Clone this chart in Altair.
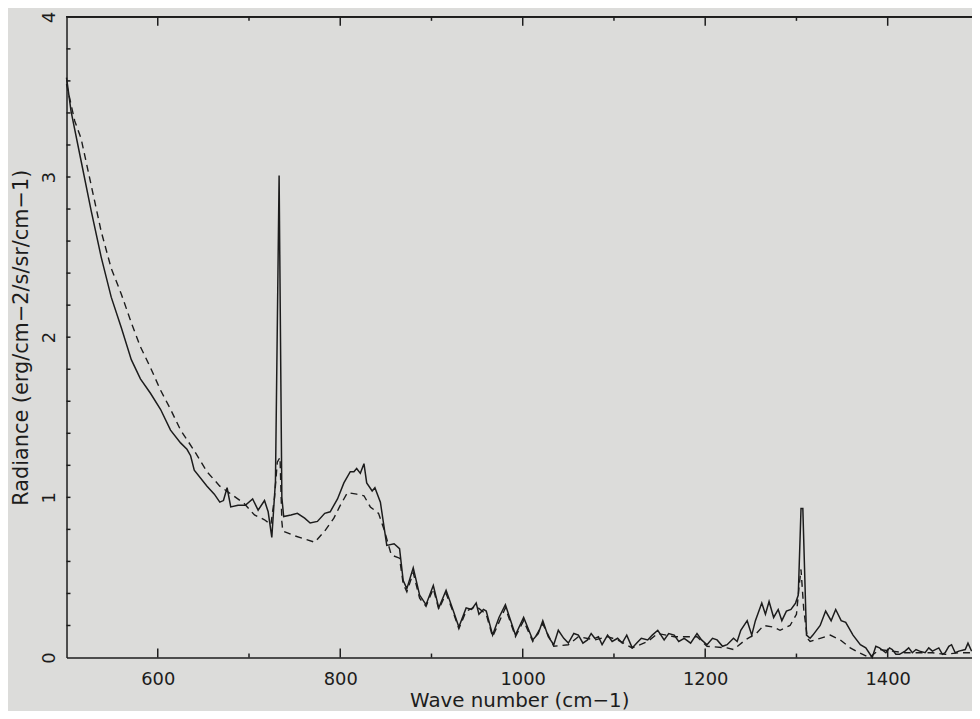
import altair as alt
import pandas as pd

# ---- data ----
solid_x = [500, 505, 516, 527, 538, 549, 560, 571, 581, 592, 603, 614, 625, 632, 636, 640, 654, 662, 668, 672,
           676, 680, 688, 696, 704, 710, 717, 721, 725, 729, 733, 736, 738, 746, 753, 761, 767, 775, 783, 789,
           797, 804, 811, 815, 818, 822, 826, 829, 835, 838, 844, 851, 859, 865, 869, 873, 880, 887, 894, 902,
           908, 916, 924, 930, 938, 944, 949, 952, 957, 960, 967, 974, 981, 992, 1001, 1011, 1017, 1022, 1028, 1034,
           1039, 1045, 1050, 1056, 1061, 1066, 1071, 1075, 1079, 1083, 1087, 1093, 1098, 1104, 1109, 1114, 1120, 1125, 1130, 1137,
           1142, 1148, 1155, 1160, 1166, 1171, 1177, 1184, 1191, 1196, 1202, 1208, 1213, 1219, 1224, 1231, 1235, 1239,
           1246, 1251, 1255, 1262, 1266, 1270, 1275, 1280, 1284, 1289, 1294, 1299, 1302, 1305, 1307, 1310, 1311, 1315, 1318, 1326,
           1332, 1338, 1343, 1349, 1354, 1362, 1370, 1376, 1383, 1387, 1391, 1398, 1402, 1405, 1409, 1413, 1419, 1423, 1427, 1431,
           1435, 1441, 1445, 1449, 1456, 1460, 1463, 1467, 1470, 1474, 1478, 1485, 1488, 1492]
solid_y = [3.62, 3.41, 3.10, 2.79, 2.50, 2.25, 2.06, 1.86, 1.74, 1.65, 1.55, 1.42, 1.34, 1.30, 1.26, 1.17, 1.07, 1.02, 0.97, 0.98,
           1.06, 0.94, 0.95, 0.95, 0.99, 0.92, 0.98, 0.91, 0.75, 1.10, 3.01, 1.00, 0.88, 0.89, 0.90, 0.87, 0.84, 0.85, 0.90, 0.91,
           0.99, 1.09, 1.16, 1.16, 1.18, 1.15, 1.21, 1.09, 1.04, 1.06, 0.97, 0.70, 0.71, 0.68, 0.48, 0.43, 0.56, 0.39, 0.33, 0.45,
           0.31, 0.42, 0.29, 0.19, 0.31, 0.30, 0.34, 0.27, 0.30, 0.29, 0.14, 0.25, 0.33, 0.14, 0.25, 0.11, 0.15, 0.23, 0.13, 0.08,
           0.17, 0.12, 0.09, 0.15, 0.14, 0.09, 0.11, 0.15, 0.12, 0.13, 0.08, 0.14, 0.10, 0.12, 0.09, 0.14, 0.06, 0.09, 0.12, 0.11,
           0.14, 0.17, 0.11, 0.15, 0.14, 0.10, 0.12, 0.09, 0.15, 0.11, 0.08, 0.12, 0.11, 0.07, 0.08, 0.12, 0.10, 0.17,
           0.23, 0.14, 0.23, 0.34, 0.27, 0.35, 0.25, 0.30, 0.23, 0.29, 0.30, 0.34, 0.39, 0.93, 0.93, 0.33, 0.14, 0.12, 0.14, 0.20,
           0.29, 0.23, 0.30, 0.23, 0.22, 0.14, 0.08, 0.06, 0.00, 0.07, 0.06, 0.03, 0.06, 0.05, 0.02, 0.02, 0.04, 0.06, 0.03, 0.05,
           0.04, 0.03, 0.06, 0.04, 0.06, 0.02, 0.03, 0.07, 0.08, 0.03, 0.04, 0.05, 0.09, 0.04]

dash_x = [500, 509, 516, 527, 538, 549, 560, 571, 581, 592, 603, 614, 625, 639, 654, 668, 683, 695, 706, 717,
          724, 728, 731, 734, 736, 737, 750, 761, 772, 783, 793, 800, 808, 818, 826, 833, 842, 848, 856, 865,
          869, 873, 880, 887, 894, 902, 908, 916, 924, 930, 938, 949, 960, 967, 981, 992, 1001, 1011, 1022, 1034,
          1050, 1061, 1079, 1093, 1104, 1120, 1137, 1148, 1166, 1191, 1202, 1224, 1231, 1244, 1256, 1264, 1275, 1282, 1293, 1300,
          1303, 1305, 1308, 1312, 1315, 1326, 1337, 1348, 1359, 1369, 1380, 1391, 1405, 1419, 1435, 1449, 1463, 1478, 1492]
dash_y = [3.58, 3.35, 3.24, 2.95, 2.66, 2.43, 2.27, 2.09, 1.94, 1.81, 1.67, 1.55, 1.42, 1.30, 1.16, 1.07, 1.01, 0.96, 0.89, 0.86,
          0.83, 1.00, 1.22, 1.25, 0.85, 0.79, 0.76, 0.74, 0.72, 0.79, 0.87, 0.95, 1.03, 1.02, 1.01, 0.94, 0.90, 0.80, 0.64, 0.62,
          0.46, 0.41, 0.53, 0.37, 0.32, 0.43, 0.30, 0.40, 0.28, 0.18, 0.29, 0.32, 0.27, 0.13, 0.31, 0.13, 0.23, 0.10, 0.21, 0.07,
          0.08, 0.13, 0.11, 0.13, 0.11, 0.06, 0.10, 0.15, 0.13, 0.13, 0.07, 0.06, 0.05, 0.11, 0.15, 0.20, 0.19, 0.17, 0.20, 0.27,
          0.45, 0.55, 0.30, 0.12, 0.10, 0.12, 0.14, 0.11, 0.06, 0.03, 0.00, 0.05, 0.04, 0.03, 0.03, 0.03, 0.02, 0.03, 0.03]

x_major_ticks = [600, 800, 1000, 1200, 1400]
x_minor_ticks = [700, 900, 1100, 1300]
y_tick_labels = [0, 1, 2, 3, 4]
y_minor_ticks = [0.2, 0.4, 0.6, 0.8, 1.0, 1.2, 1.4, 1.6, 1.8, 2.0, 2.2, 2.4, 2.6, 2.8, 3.0, 3.2, 3.4, 3.6, 3.8]

# ---- styling ----
W, H = 913, 646
INK = "#1c1c1c"
BG = "#dcdcda"
FONT = "DejaVu Sans"

xs = alt.Scale(domain=[500, 1492.4], nice=False, zero=False)
ys = alt.Scale(domain=[0, 4], nice=False, zero=False)

solid_df = pd.DataFrame({"x": solid_x, "y": solid_y})
dash_df = pd.DataFrame({"x": dash_x, "y": dash_y})

x_axis = alt.Axis(values=x_major_ticks, ticks=False, tickSize=0, domain=True, domainColor=INK,
                  domainWidth=1.5, grid=False, labelFontSize=18, labelFont=FONT, labelColor=INK,
                  labelPadding=13, format="d", title="Wave number (cm−1)", titleFont=FONT,
                  titleFontSize=20, titleFontWeight="normal", titleColor=INK, titlePadding=2)
y_axis = alt.Axis(values=y_tick_labels, ticks=False, tickSize=0, domain=True, domainColor=INK,
                  domainWidth=1.5, grid=False, labelFontSize=18, labelFont=FONT, labelColor=INK,
                  labelAngle=-90, labelAlign="center", labelBaseline="bottom", labelPadding=8,
                  format="d", title="Radiance (erg/cm−2/s/sr/cm−1)", titleFont=FONT,
                  titleFontSize=21, titleFontWeight="normal", titleColor=INK, titlePadding=9)

solid = alt.Chart(solid_df).mark_line(color=INK, strokeWidth=1.5).encode(
    x=alt.X("x:Q", scale=xs, axis=x_axis),
    y=alt.Y("y:Q", scale=ys, axis=y_axis),
)
dashed = alt.Chart(dash_df).mark_line(color=INK, strokeWidth=1.4, strokeDash=[7, 5]).encode(
    x=alt.X("x:Q", scale=xs),
    y=alt.Y("y:Q", scale=ys),
)

xmaj = pd.DataFrame({"x": x_major_ticks})
xmin = pd.DataFrame({"x": x_minor_ticks})
ymin = pd.DataFrame({"y": y_minor_ticks})

def xticks(df, y0, y1):
    return alt.Chart(df).mark_rule(color=INK, strokeWidth=1.5).encode(
        x=alt.X("x:Q", scale=xs), y=alt.value(y0), y2=alt.value(y1))

tick_layers = [
    xticks(xmaj, H, H - 9), xticks(xmin, H, H - 4),
    xticks(xmaj, 0, 9), xticks(xmin, 0, 4),
    alt.Chart(ymin).mark_rule(color=INK, strokeWidth=1.5).encode(
        y=alt.Y("y:Q", scale=ys), x=alt.value(0), x2=alt.value(4)),
    alt.Chart(xmaj).mark_rule(color=INK, strokeWidth=1.5).encode(
        x=alt.value(0), x2=alt.value(W), y=alt.value(0)),
]

chart = alt.layer(solid, dashed, *tick_layers).properties(
    width=W, height=H,
    autosize=alt.AutoSizeParams(type="none"),
    padding={"left": 59, "top": 6, "right": 0, "bottom": 51},
    background=BG,
).configure_view(stroke=None, fill=BG)

chart.save("out.html", embed_options={"renderer": "svg", "actions": False})
